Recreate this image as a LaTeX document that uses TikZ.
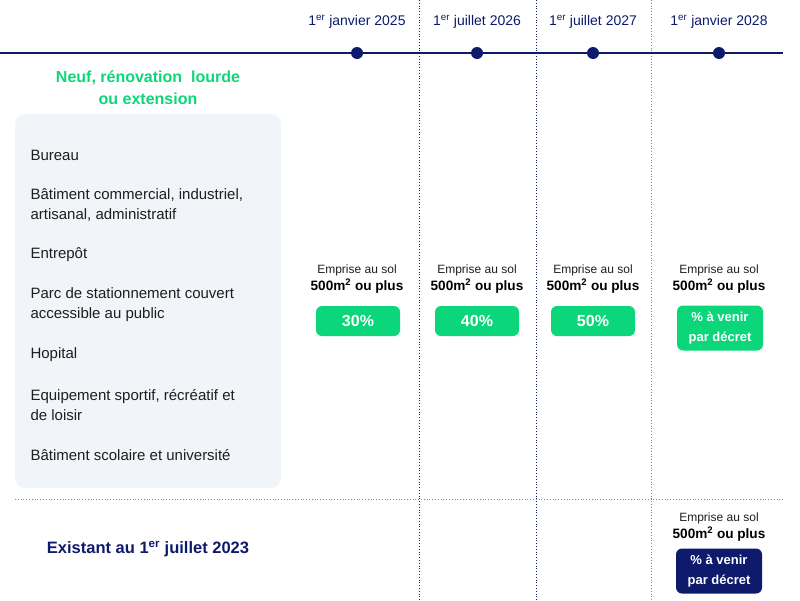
\documentclass[tikz,border=0pt]{standalone}
\usepackage{fontspec}
\setmainfont{Liberation Sans}
\definecolor{navy}{RGB}{14,26,107}
\definecolor{vert}{RGB}{12,214,122}
\definecolor{grisbox}{RGB}{241,244,248}
\definecolor{lavande}{RGB}{120,130,200}
\definecolor{texte}{RGB}{30,30,30}
\begin{document}
\begin{tikzpicture}[x=1pt,y=-1pt,
  datelbl/.style={font=\fontsize{14}{16}\selectfont, text=navy, anchor=center},
  dot/.style={circle, fill=navy, inner sep=0pt, minimum size=12pt},
  item/.style={font=\fontsize{15}{20}\selectfont, text=texte, anchor=west, align=left},
  emp/.style={font=\fontsize{12}{14}\selectfont, text=texte, align=center},
  surf/.style={font=\fontsize{13.6}{15}\selectfont\bfseries, text=black, align=center},
  pct/.style={rounded corners=6pt, fill=vert, text=white, font=\fontsize{16}{18}\selectfont\bfseries, minimum width=84pt, minimum height=30pt, inner sep=0pt},
  decret/.style={rounded corners=6pt, fill=#1, text=white, font=\fontsize{13}{20}\selectfont\bfseries, minimum width=86pt, minimum height=45pt, inner sep=0pt, align=center},
  vline/.style={navy, dotted, line width=0.8pt},
]
\useasboundingbox (0,0) rectangle (800,600);
% vertical dotted lines
\coordinate (v1t) at (419,0); \coordinate (v1b) at (419,600);
\coordinate (v2t) at (536,0); \coordinate (v2b) at (536,600);
\coordinate (v3t) at (651,0); \coordinate (v3b) at (651,600);
\draw[vline] (v1t) -- (v1b);
\draw[vline] (v2t) -- (v2b);
\draw[vline, lavande] (v3t) -- (v3b);
% horizontal dotted separator
\coordinate (hl) at (15,499); \coordinate (hr) at (783,499);
\draw[vline, lavande] (hl) -- (hr);
% timeline
\coordinate (tl) at (0,53); \coordinate (tr) at (783,53);
\draw[navy, line width=1.8pt] (tl) -- (tr);
\node[dot] (d1) at (357,53) {};
\node[dot] (d2) at (477,53) {};
\node[dot] (d3) at (593,53) {};
\node[dot] (d4) at (719,53) {};
\node[datelbl] (l1) at (357,22) {1\textsuperscript{er} janvier 2025};
\node[datelbl] (l2) at (477,22) {1\textsuperscript{er} juillet 2026};
\node[datelbl] (l3) at (593,22) {1\textsuperscript{er} juillet 2027};
\node[datelbl] (l4) at (719,22) {1\textsuperscript{er} janvier 2028};
% green title
\node[text=vert, font=\fontsize{16}{22}\selectfont\bfseries, align=center] (title) at (148,88) {Neuf, rénovation\ \ lourde\\ou extension};
% grey box
\fill[grisbox, rounded corners=10pt] (15,114) rectangle (281,488);
\node[item] (i1) at (27,155) {Bureau};
\node[item] (i2) at (27,205) {Bâtiment commercial, industriel,\\artisanal, administratif};
\node[item] (i3) at (27,255) {Entrepôt};
\node[item] (i4) at (27,305) {Parc de stationnement couvert\\accessible au public};
\node[item] (i5) at (27,355) {Hopital};
\node[item] (i6) at (27,405) {Equipement sportif, récréatif et\\de loisir};
\node[item] (i7) at (27,455) {Bâtiment scolaire et université};
% columns
\foreach \x/\n in {357/a,477/b,593/c,719/d}{
  \node[emp] (e\n) at (\x,270) {Emprise au sol};
  \node[surf] (s\n) at (\x,286) {500m\textsuperscript{2} ou plus};
}
\node[pct] (p1) at (358,321) {30\%};
\node[pct] (p2) at (477,321) {40\%};
\node[pct] (p3) at (593,321) {50\%};
\node[decret=vert] (p4) at (720,328) {\% à venir\\par décret};
% bottom row
\node[text=navy, font=\fontsize{16.5}{18}\selectfont\bfseries] (exist) at (148,549) {Existant au 1\textsuperscript{er} juillet 2023};
\node[emp] (ee) at (719,518) {Emprise au sol};
\node[surf] (se) at (719,534) {500m\textsuperscript{2} ou plus};
\node[decret=navy] (pe) at (719,571) {\% à venir\\par décret};
\end{tikzpicture}
\end{document}
